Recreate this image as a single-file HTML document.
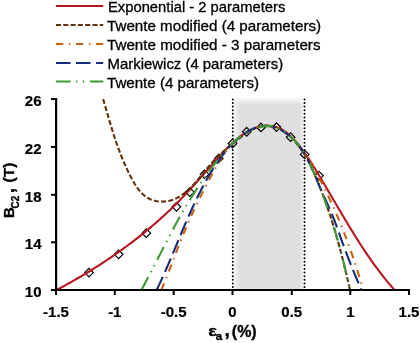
<!DOCTYPE html>
<html><head><meta charset="utf-8"><style>
html,body{margin:0;padding:0;background:#fff;}
svg{display:block;font-family:"Liberation Sans", sans-serif;will-change:transform;}
</style></head><body>
<svg width="420" height="343" viewBox="0 0 420 343">
<rect width="420" height="343" fill="#fff"/>
<defs><linearGradient id="gt" x1="0" y1="0" x2="0" y2="1"><stop offset="0" stop-color="#fff" stop-opacity="0.75"/><stop offset="1" stop-color="#fff" stop-opacity="0"/></linearGradient><linearGradient id="gl" x1="0" y1="0" x2="1" y2="0"><stop offset="0" stop-color="#fff" stop-opacity="0.6"/><stop offset="1" stop-color="#fff" stop-opacity="0"/></linearGradient><linearGradient id="gr" x1="0" y1="0" x2="1" y2="0"><stop offset="0" stop-color="#fff" stop-opacity="0"/><stop offset="1" stop-color="#fff" stop-opacity="0.45"/></linearGradient></defs>
<rect x="234.5" y="98.6" width="68.6" height="190.4" fill="#dfdfe2"/>
<rect x="234.5" y="98.6" width="68.6" height="5.5" fill="url(#gt)"/>
<rect x="234.5" y="98.6" width="5" height="190.4" fill="url(#gl)"/>
<rect x="299.3" y="98.6" width="3.8" height="190.4" fill="url(#gr)"/>
<line x1="232.8" y1="99.4" x2="232.8" y2="287.5" stroke="#000" stroke-width="2" stroke-linecap="round" stroke-dasharray="0 3.608"/>
<line x1="304.5" y1="99.4" x2="304.5" y2="287.5" stroke="#000" stroke-width="2" stroke-linecap="round" stroke-dasharray="0 3.608"/>
<path d="M89,268.3 L93.3,272.6 L89,276.90000000000003 L84.7,272.6 Z" fill="none" stroke="#000" stroke-width="1.2"/>
<path d="M118.6,250.0 L122.89999999999999,254.3 L118.6,258.6 L114.3,254.3 Z" fill="none" stroke="#000" stroke-width="1.2"/>
<path d="M146.3,228.89999999999998 L150.60000000000002,233.2 L146.3,237.5 L142.0,233.2 Z" fill="none" stroke="#000" stroke-width="1.2"/>
<path d="M176.4,202.5 L180.70000000000002,206.8 L176.4,211.10000000000002 L172.1,206.8 Z" fill="none" stroke="#000" stroke-width="1.2"/>
<path d="M189.8,187.79999999999998 L194.10000000000002,192.1 L189.8,196.4 L185.5,192.1 Z" fill="none" stroke="#000" stroke-width="1.2"/>
<path d="M204.5,169.89999999999998 L208.8,174.2 L204.5,178.5 L200.2,174.2 Z" fill="none" stroke="#000" stroke-width="1.2"/>
<path d="M218.8,154.1 L223.10000000000002,158.4 L218.8,162.70000000000002 L214.5,158.4 Z" fill="none" stroke="#000" stroke-width="1.2"/>
<path d="M232.5,139.2 L236.8,143.5 L232.5,147.8 L228.2,143.5 Z" fill="none" stroke="#000" stroke-width="1.2"/>
<path d="M246.7,127.50000000000001 L251.0,131.8 L246.7,136.10000000000002 L242.39999999999998,131.8 Z" fill="none" stroke="#000" stroke-width="1.2"/>
<path d="M261,123.10000000000001 L265.3,127.4 L261,131.70000000000002 L256.7,127.4 Z" fill="none" stroke="#000" stroke-width="1.2"/>
<path d="M276.5,122.8 L280.8,127.1 L276.5,131.4 L272.2,127.1 Z" fill="none" stroke="#000" stroke-width="1.2"/>
<path d="M290.6,132.89999999999998 L294.90000000000003,137.2 L290.6,141.5 L286.3,137.2 Z" fill="none" stroke="#000" stroke-width="1.2"/>
<path d="M304.7,150.1 L309.0,154.4 L304.7,158.70000000000002 L300.4,154.4 Z" fill="none" stroke="#000" stroke-width="1.2"/>
<path d="M319,171.29999999999998 L323.3,175.6 L319,179.9 L314.7,175.6 Z" fill="none" stroke="#000" stroke-width="1.2"/>
<path d="M56.35,290.15 L58.46,289.03 L60.57,287.90 L62.67,286.76 L64.78,285.61 L66.88,284.45 L68.98,283.28 L71.08,282.10 L73.18,280.91 L75.27,279.70 L77.36,278.49 L79.45,277.27 L81.54,276.04 L83.62,274.80 L85.70,273.55 L87.77,272.29 L89.85,271.02 L91.91,269.74 L93.98,268.45 L96.03,267.15 L98.09,265.84 L100.14,264.52 L102.18,263.19 L104.22,261.85 L106.25,260.50 L108.28,259.14 L110.31,257.77 L112.32,256.40 L114.33,255.01 L116.34,253.61 L118.34,252.21 L120.33,250.79 L122.31,249.37 L124.29,247.93 L126.26,246.49 L128.23,245.03 L130.18,243.57 L132.13,242.10 L134.07,240.61 L136.01,239.12 L137.93,237.62 L139.85,236.11 L141.75,234.59 L143.65,233.06 L145.54,231.52 L147.42,229.98 L149.30,228.42 L151.16,226.85 L153.01,225.28 L154.85,223.69 L156.68,222.10 L158.51,220.50 L160.32,218.89 L162.12,217.27 L163.91,215.64 L165.69,214.00 L167.46,212.35 L169.22,210.69 L170.96,209.02 L172.70,207.35 L174.42,205.67 L176.13,203.97 L177.83,202.27 L179.51,200.56 L181.18,198.84 L182.85,197.11 L184.50,195.37 L186.14,193.63 L187.77,191.88 L189.39,190.11 L191.01,188.35 L192.62,186.57 L194.23,184.79 L195.83,183.00 L197.43,181.21 L199.03,179.41 L200.63,177.60 L202.23,175.79 L203.84,173.98 L205.44,172.16 L207.05,170.33 L208.67,168.50 L210.29,166.67 L211.92,164.83 L213.56,162.99 L215.20,161.15 L216.86,159.30 L218.53,157.46 L220.22,155.61 L221.91,153.76 L223.62,151.91 L225.35,150.07 L227.10,148.26 L228.87,146.47 L230.65,144.70 L232.46,142.98 L234.30,141.30 L236.16,139.68 L238.04,138.11 L239.96,136.60 L241.90,135.17 L243.88,133.81 L245.89,132.54 L247.93,131.36 L250.01,130.28 L252.12,129.31 L254.28,128.44 L256.47,127.69 L258.70,127.07 L260.98,126.58 L263.30,126.22 L265.66,126.01 L268.03,125.96 L270.41,126.07 L272.76,126.35 L275.09,126.81 L277.37,127.46 L279.59,128.31 L281.73,129.35 L283.79,130.59 L285.78,131.98 L287.70,133.51 L289.55,135.15 L291.35,136.89 L293.09,138.70 L294.78,140.56 L296.42,142.45 L298.02,144.35 L299.58,146.27 L301.09,148.21 L302.58,150.16 L304.02,152.12 L305.44,154.10 L306.83,156.10 L308.19,158.10 L309.53,160.11 L310.85,162.14 L312.15,164.17 L313.44,166.22 L314.71,168.27 L315.98,170.32 L317.23,172.38 L318.49,174.45 L319.73,176.52 L320.98,178.59 L322.22,180.67 L323.46,182.75 L324.69,184.84 L325.92,186.93 L327.15,189.01 L328.38,191.11 L329.61,193.20 L330.84,195.29 L332.07,197.39 L333.29,199.49 L334.52,201.59 L335.75,203.68 L336.98,205.78 L338.21,207.88 L339.44,209.98 L340.67,212.07 L341.91,214.17 L343.15,216.26 L344.40,218.35 L345.64,220.44 L346.89,222.53 L348.15,224.61 L349.41,226.70 L350.67,228.77 L351.95,230.85 L353.22,232.92 L354.51,234.99 L355.80,237.05 L357.09,239.11 L358.40,241.16 L359.71,243.21 L361.03,245.25 L362.36,247.28 L363.69,249.31 L365.04,251.33 L366.39,253.35 L367.76,255.36 L369.14,257.36 L370.52,259.35 L371.92,261.34 L373.33,263.31 L374.75,265.28 L376.18,267.24 L377.63,269.19 L379.09,271.13 L380.56,273.06 L382.04,274.98 L383.54,276.89 L385.06,278.79 L386.58,280.68 L388.13,282.56 L389.69,284.42 L391.26,286.28 L392.85,288.12 L394.46,289.94" fill="none" stroke="#b9171f" stroke-width="2.1"/>
<path d="M103.13,99.09 L103.78,101.30 L104.43,103.51 L105.07,105.71 L105.71,107.91 L106.34,110.10 L106.98,112.29 L107.62,114.47 L108.25,116.65 L108.89,118.82 L109.53,120.99 L110.18,123.16 L110.83,125.32 L111.48,127.48 L112.14,129.64 L112.81,131.79 L113.49,133.93 L114.18,136.07 L114.88,138.21 L115.59,140.35 L116.31,142.48 L117.04,144.60 L117.79,146.72 L118.56,148.84 L119.34,150.96 L120.14,153.07 L120.96,155.18 L121.80,157.28 L122.66,159.38 L123.54,161.48 L124.44,163.57 L125.37,165.66 L126.32,167.75 L127.29,169.83 L128.30,171.91 L129.33,173.99 L130.38,176.06 L131.47,178.13 L132.59,180.20 L133.75,182.24 L134.95,184.24 L136.21,186.20 L137.51,188.09 L138.88,189.91 L140.32,191.64 L141.84,193.28 L143.43,194.79 L145.11,196.18 L146.88,197.43 L148.74,198.52 L150.71,199.45 L152.77,200.21 L154.90,200.81 L157.08,201.24 L159.32,201.51 L161.58,201.62 L163.85,201.57 L166.12,201.36 L168.37,201.00 L170.59,200.48 L172.77,199.81 L174.89,198.99 L176.94,198.03 L178.94,196.94 L180.88,195.74 L182.76,194.44 L184.58,193.06 L186.36,191.60 L188.08,190.09 L189.75,188.53 L191.37,186.92 L192.94,185.29 L194.49,183.62 L195.99,181.92 L197.47,180.21 L198.93,178.47 L200.37,176.72 L201.80,174.97 L203.22,173.21 L204.63,171.45 L206.05,169.69 L207.48,167.95 L208.91,166.22 L210.37,164.51 L211.84,162.82 L213.35,161.15 L214.88,159.52 L216.44,157.92 L218.04,156.35 L219.66,154.80 L221.31,153.27 L222.98,151.77 L224.67,150.28 L226.39,148.81 L228.12,147.35 L229.88,145.90 L231.65,144.46 L233.43,143.03 L235.23,141.60 L237.05,140.17 L238.87,138.75 L240.70,137.32 L242.54,135.89 L244.41,134.50 L246.29,133.15 L248.21,131.87 L250.16,130.67 L252.15,129.56 L254.18,128.58 L256.26,127.72 L258.38,127.01 L260.53,126.44 L262.70,126.02 L264.88,125.76 L267.07,125.67 L269.24,125.74 L271.40,126.00 L273.54,126.43 L275.64,127.05 L277.70,127.84 L279.72,128.80 L281.70,129.89 L283.63,131.11 L285.51,132.44 L287.33,133.87 L289.10,135.38 L290.81,136.96 L292.46,138.59 L294.04,140.26 L295.57,141.97 L297.03,143.72 L298.45,145.50 L299.81,147.32 L301.12,149.17 L302.38,151.05 L303.60,152.96 L304.78,154.90 L305.93,156.86 L307.03,158.84 L308.11,160.84 L309.15,162.86 L310.16,164.89 L311.15,166.94 L312.12,169.00 L313.07,171.06 L314.00,173.14 L314.92,175.22 L315.83,177.30 L316.72,179.39 L317.60,181.49 L318.47,183.58 L319.32,185.68 L320.17,187.79 L321.00,189.90 L321.82,192.01 L322.63,194.13 L323.43,196.25 L324.22,198.37 L325.00,200.50 L325.77,202.63 L326.52,204.76 L327.27,206.90 L328.01,209.04 L328.73,211.18 L329.45,213.33 L330.16,215.48 L330.86,217.63 L331.55,219.79 L332.23,221.94 L332.90,224.11 L333.57,226.27 L334.22,228.44 L334.87,230.61 L335.51,232.78 L336.14,234.95 L336.77,237.13 L337.39,239.31 L338.00,241.49 L338.60,243.68 L339.19,245.86 L339.78,248.05 L340.37,250.24 L340.94,252.43 L341.51,254.63 L342.08,256.83 L342.64,259.02 L343.19,261.23 L343.74,263.43 L344.28,265.63 L344.82,267.84 L345.35,270.04 L345.88,272.25 L346.41,274.46 L346.93,276.68 L347.44,278.89 L347.95,281.10 L348.46,283.32 L348.97,285.54 L349.47,287.75 L349.96,289.97" fill="none" stroke="#62300c" stroke-width="2.1" stroke-dasharray="5 2.3"/>
<path d="M161.28,290.00 L162.08,288.14 L162.87,286.28 L163.65,284.42 L164.42,282.55 L165.18,280.68 L165.94,278.81 L166.69,276.93 L167.44,275.06 L168.18,273.18 L168.91,271.30 L169.64,269.43 L170.37,267.55 L171.09,265.66 L171.81,263.78 L172.53,261.90 L173.25,260.02 L173.97,258.14 L174.69,256.26 L175.40,254.38 L176.12,252.50 L176.84,250.62 L177.56,248.74 L178.29,246.87 L179.01,244.99 L179.74,243.12 L180.48,241.25 L181.22,239.38 L181.96,237.51 L182.72,235.65 L183.47,233.79 L184.24,231.93 L185.01,230.08 L185.79,228.23 L186.58,226.38 L187.37,224.53 L188.17,222.69 L188.98,220.85 L189.80,219.02 L190.62,217.19 L191.45,215.36 L192.29,213.53 L193.13,211.71 L193.98,209.89 L194.84,208.07 L195.70,206.26 L196.57,204.45 L197.45,202.64 L198.33,200.84 L199.22,199.03 L200.12,197.24 L201.02,195.44 L201.93,193.65 L202.85,191.86 L203.77,190.07 L204.69,188.28 L205.62,186.50 L206.55,184.72 L207.49,182.93 L208.43,181.15 L209.38,179.37 L210.32,177.59 L211.27,175.81 L212.22,174.03 L213.17,172.24 L214.12,170.46 L215.08,168.68 L216.04,166.91 L217.02,165.14 L218.01,163.39 L219.03,161.65 L220.06,159.93 L221.13,158.24 L222.22,156.57 L223.34,154.93 L224.51,153.32 L225.71,151.75 L226.95,150.21 L228.23,148.71 L229.55,147.23 L230.90,145.79 L232.28,144.37 L233.69,142.98 L235.13,141.61 L236.60,140.26 L238.09,138.94 L239.61,137.63 L241.15,136.34 L242.72,135.09 L244.35,133.87 L246.03,132.71 L247.78,131.61 L249.60,130.57 L251.48,129.62 L253.42,128.75 L255.39,127.97 L257.39,127.29 L259.42,126.72 L261.45,126.27 L263.47,125.93 L265.48,125.73 L267.46,125.67 L269.40,125.74 L271.30,125.97 L273.16,126.33 L274.98,126.82 L276.76,127.44 L278.50,128.17 L280.20,129.01 L281.87,129.96 L283.50,131.00 L285.09,132.14 L286.65,133.35 L288.17,134.65 L289.66,136.01 L291.13,137.43 L292.56,138.91 L293.96,140.44 L295.33,142.01 L296.67,143.62 L297.99,145.25 L299.28,146.91 L300.54,148.58 L301.79,150.25 L303.00,151.93 L304.20,153.62 L305.37,155.31 L306.52,157.00 L307.66,158.70 L308.77,160.40 L309.86,162.11 L310.93,163.82 L311.99,165.53 L313.03,167.25 L314.06,168.98 L315.06,170.70 L316.06,172.44 L317.04,174.18 L318.01,175.92 L318.96,177.67 L319.90,179.42 L320.84,181.18 L321.76,182.95 L322.67,184.72 L323.58,186.49 L324.47,188.27 L325.36,190.06 L326.24,191.86 L327.12,193.66 L327.99,195.46 L328.85,197.27 L329.71,199.09 L330.56,200.91 L331.40,202.73 L332.23,204.57 L333.06,206.40 L333.89,208.24 L334.70,210.09 L335.52,211.94 L336.32,213.79 L337.12,215.65 L337.91,217.51 L338.69,219.38 L339.47,221.25 L340.24,223.12 L341.01,225.00 L341.77,226.88 L342.52,228.76 L343.27,230.65 L344.00,232.54 L344.74,234.43 L345.46,236.33 L346.18,238.22 L346.90,240.12 L347.61,242.02 L348.31,243.93 L349.00,245.83 L349.69,247.74 L350.37,249.65 L351.05,251.56 L351.72,253.48 L352.38,255.39 L353.03,257.30 L353.68,259.22 L354.33,261.14 L354.97,263.05 L355.60,264.97 L356.22,266.89 L356.84,268.81 L357.45,270.73 L358.06,272.65 L358.66,274.56 L359.25,276.48 L359.83,278.40 L360.41,280.32 L360.99,282.23 L361.56,284.15 L362.12,286.07 L362.67,287.98 L363.22,289.89" fill="none" stroke="#c9620e" stroke-width="2.1" stroke-dasharray="7.3 5.6 1.4 5.7"/>
<path d="M156.64,290.04 L157.51,288.22 L158.38,286.40 L159.24,284.58 L160.09,282.75 L160.93,280.92 L161.77,279.09 L162.60,277.25 L163.43,275.41 L164.25,273.57 L165.06,271.72 L165.87,269.87 L166.68,268.02 L167.48,266.17 L168.27,264.31 L169.07,262.46 L169.86,260.60 L170.65,258.74 L171.43,256.87 L172.22,255.01 L173.00,253.15 L173.78,251.28 L174.56,249.42 L175.33,247.55 L176.11,245.68 L176.89,243.81 L177.67,241.95 L178.44,240.08 L179.22,238.21 L180.00,236.35 L180.78,234.48 L181.57,232.62 L182.35,230.76 L183.14,228.89 L183.93,227.03 L184.73,225.17 L185.52,223.32 L186.33,221.46 L187.13,219.61 L187.94,217.76 L188.76,215.91 L189.58,214.06 L190.40,212.22 L191.24,210.38 L192.07,208.54 L192.92,206.71 L193.77,204.88 L194.63,203.05 L195.50,201.23 L196.37,199.41 L197.25,197.60 L198.14,195.79 L199.04,193.98 L199.95,192.18 L200.87,190.39 L201.80,188.60 L202.74,186.82 L203.69,185.05 L204.66,183.28 L205.63,181.52 L206.62,179.76 L207.61,178.02 L208.63,176.28 L209.65,174.55 L210.69,172.83 L211.74,171.11 L212.81,169.41 L213.89,167.72 L214.98,166.04 L216.09,164.36 L217.22,162.70 L218.37,161.05 L219.53,159.41 L220.70,157.78 L221.90,156.17 L223.12,154.57 L224.36,152.98 L225.63,151.41 L226.92,149.86 L228.25,148.33 L229.60,146.82 L230.99,145.33 L232.42,143.86 L233.88,142.42 L235.38,141.00 L236.92,139.61 L238.50,138.25 L240.13,136.91 L241.80,135.61 L243.51,134.35 L245.26,133.15 L247.04,132.01 L248.84,130.93 L250.67,129.94 L252.52,129.04 L254.39,128.23 L256.26,127.52 L258.15,126.93 L260.04,126.47 L261.93,126.13 L263.83,125.93 L265.71,125.88 L267.59,125.95 L269.46,126.15 L271.31,126.47 L273.15,126.92 L274.98,127.47 L276.78,128.12 L278.56,128.88 L280.32,129.74 L282.06,130.68 L283.76,131.71 L285.43,132.82 L287.07,134.00 L288.68,135.25 L290.24,136.57 L291.77,137.94 L293.25,139.37 L294.69,140.85 L296.08,142.36 L297.41,143.92 L298.70,145.51 L299.94,147.12 L301.14,148.77 L302.29,150.45 L303.40,152.15 L304.46,153.87 L305.50,155.62 L306.50,157.39 L307.46,159.17 L308.40,160.98 L309.31,162.79 L310.20,164.63 L311.06,166.47 L311.91,168.33 L312.74,170.19 L313.55,172.07 L314.35,173.94 L315.15,175.82 L315.93,177.71 L316.71,179.59 L317.49,181.47 L318.27,183.35 L319.06,185.23 L319.84,187.09 L320.64,188.95 L321.44,190.81 L322.26,192.65 L323.09,194.48 L323.92,196.30 L324.75,198.12 L325.59,199.94 L326.43,201.75 L327.26,203.57 L328.10,205.38 L328.92,207.20 L329.73,209.03 L330.54,210.86 L331.33,212.70 L332.11,214.54 L332.86,216.40 L333.61,218.27 L334.34,220.15 L335.05,222.04 L335.76,223.93 L336.45,225.83 L337.14,227.73 L337.83,229.64 L338.50,231.55 L339.18,233.47 L339.86,235.38 L340.54,237.29 L341.22,239.20 L341.91,241.11 L342.60,243.02 L343.30,244.92 L344.00,246.82 L344.71,248.72 L345.42,250.61 L346.14,252.50 L346.86,254.39 L347.59,256.28 L348.32,258.16 L349.06,260.05 L349.80,261.93 L350.54,263.80 L351.29,265.68 L352.04,267.56 L352.80,269.43 L353.55,271.30 L354.32,273.17 L355.08,275.04 L355.85,276.91 L356.62,278.77 L357.39,280.64 L358.17,282.50 L358.94,284.37 L359.72,286.23 L360.50,288.09 L361.29,289.96" fill="none" stroke="#182b7a" stroke-width="2.1" stroke-dasharray="14.5 5.5"/>
<path d="M141.46,289.92 L142.41,288.17 L143.36,286.41 L144.31,284.64 L145.26,282.87 L146.20,281.09 L147.14,279.31 L148.08,277.52 L149.02,275.73 L149.95,273.93 L150.89,272.13 L151.82,270.32 L152.75,268.51 L153.69,266.70 L154.62,264.88 L155.55,263.06 L156.48,261.24 L157.42,259.42 L158.35,257.59 L159.28,255.77 L160.22,253.94 L161.15,252.11 L162.09,250.28 L163.02,248.46 L163.96,246.63 L164.91,244.80 L165.85,242.97 L166.79,241.15 L167.74,239.32 L168.69,237.50 L169.65,235.68 L170.60,233.86 L171.56,232.04 L172.53,230.23 L173.49,228.42 L174.46,226.62 L175.44,224.81 L176.42,223.02 L177.40,221.22 L178.39,219.43 L179.38,217.65 L180.38,215.87 L181.39,214.10 L182.40,212.33 L183.41,210.57 L184.43,208.82 L185.46,207.08 L186.49,205.34 L187.53,203.61 L188.58,201.88 L189.63,200.17 L190.69,198.46 L191.76,196.76 L192.83,195.07 L193.92,193.38 L195.01,191.70 L196.11,190.03 L197.22,188.36 L198.33,186.70 L199.46,185.04 L200.59,183.38 L201.73,181.72 L202.88,180.07 L204.04,178.42 L205.22,176.77 L206.40,175.12 L207.59,173.46 L208.79,171.81 L210.00,170.16 L211.22,168.51 L212.45,166.85 L213.70,165.19 L214.95,163.53 L216.22,161.87 L217.50,160.21 L218.80,158.56 L220.11,156.92 L221.44,155.29 L222.78,153.68 L224.14,152.08 L225.52,150.51 L226.92,148.96 L228.34,147.43 L229.78,145.93 L231.25,144.46 L232.74,143.03 L234.25,141.63 L235.78,140.28 L237.34,138.96 L238.93,137.69 L240.55,136.47 L242.19,135.30 L243.87,134.18 L245.57,133.11 L247.30,132.11 L249.07,131.16 L250.87,130.28 L252.70,129.46 L254.57,128.72 L256.47,128.05 L258.39,127.46 L260.34,126.96 L262.30,126.57 L264.26,126.28 L266.23,126.11 L268.19,126.06 L270.14,126.15 L272.07,126.38 L273.98,126.76 L275.86,127.30 L277.70,127.98 L279.51,128.79 L281.29,129.72 L283.03,130.76 L284.73,131.89 L286.38,133.12 L288.00,134.42 L289.57,135.78 L291.09,137.19 L292.56,138.64 L293.98,140.13 L295.36,141.65 L296.69,143.20 L297.98,144.79 L299.23,146.40 L300.44,148.04 L301.61,149.71 L302.74,151.41 L303.84,153.12 L304.91,154.87 L305.94,156.63 L306.94,158.41 L307.92,160.21 L308.87,162.02 L309.80,163.85 L310.70,165.70 L311.58,167.56 L312.44,169.42 L313.29,171.30 L314.11,173.19 L314.93,175.08 L315.73,176.97 L316.52,178.87 L317.30,180.77 L318.07,182.68 L318.83,184.58 L319.59,186.48 L320.34,188.39 L321.08,190.30 L321.81,192.21 L322.54,194.12 L323.25,196.03 L323.96,197.94 L324.66,199.85 L325.36,201.77 L326.04,203.69 L326.72,205.60 L327.40,207.52 L328.06,209.45 L328.72,211.37 L329.37,213.29 L330.01,215.22 L330.65,217.15 L331.28,219.08 L331.90,221.01 L332.52,222.94 L333.13,224.88 L333.73,226.82 L334.33,228.76 L334.92,230.70 L335.50,232.64 L336.08,234.59 L336.65,236.53 L337.22,238.48 L337.77,240.43 L338.33,242.39 L338.87,244.35 L339.41,246.30 L339.95,248.26 L340.48,250.23 L341.00,252.19 L341.52,254.16 L342.03,256.13 L342.54,258.11 L343.04,260.08 L343.53,262.06 L344.02,264.04 L344.51,266.03 L344.99,268.01 L345.46,270.00 L345.93,271.99 L346.39,273.99 L346.85,275.99 L347.31,277.99 L347.76,279.99 L348.20,282.00 L348.64,284.01 L349.08,286.02 L349.51,288.04 L349.93,290.05" fill="none" stroke="#3e9a35" stroke-width="2.1" stroke-dasharray="14.5 5.6 1.4 5.2 1.4 5.9"/>
<rect x="55" y="98" width="2.2" height="193" fill="#000"/>
<rect x="51" y="98.00" width="6" height="2" fill="#000"/>
<rect x="51" y="146.00" width="6" height="2" fill="#000"/>
<rect x="51" y="193.80" width="6" height="2" fill="#000"/>
<rect x="51" y="241.30" width="6" height="2" fill="#000"/>
<rect x="51" y="289.00" width="6" height="2" fill="#000"/>
<rect x="55" y="289" width="355" height="2" fill="#000"/>
<rect x="55.00" y="289" width="2" height="6" fill="#000"/>
<rect x="113.80" y="289" width="2" height="6" fill="#000"/>
<rect x="172.70" y="289" width="2" height="6" fill="#000"/>
<rect x="231.50" y="289" width="2" height="6" fill="#000"/>
<rect x="290.80" y="289" width="2" height="6" fill="#000"/>
<rect x="349.30" y="289" width="2" height="6" fill="#000"/>
<rect x="408.00" y="289" width="2" height="6" fill="#000"/>
<text x="41.5" y="105.8" text-anchor="end" font-weight="bold" font-size="15" stroke="#000" stroke-width="0.2">26</text>
<text x="41.5" y="153.8" text-anchor="end" font-weight="bold" font-size="15" stroke="#000" stroke-width="0.2">22</text>
<text x="41.5" y="201.6" text-anchor="end" font-weight="bold" font-size="15" stroke="#000" stroke-width="0.2">18</text>
<text x="41.5" y="249.1" text-anchor="end" font-weight="bold" font-size="15" stroke="#000" stroke-width="0.2">14</text>
<text x="41.5" y="296.8" text-anchor="end" font-weight="bold" font-size="15" stroke="#000" stroke-width="0.2">10</text>
<text x="56.0" y="316.8" text-anchor="middle" font-weight="bold" font-size="15" stroke="#000" stroke-width="0.2">-1.5</text>
<text x="114.8" y="316.8" text-anchor="middle" font-weight="bold" font-size="15" stroke="#000" stroke-width="0.2">-1</text>
<text x="173.7" y="316.8" text-anchor="middle" font-weight="bold" font-size="15" stroke="#000" stroke-width="0.2">-0.5</text>
<text x="232.5" y="316.8" text-anchor="middle" font-weight="bold" font-size="15" stroke="#000" stroke-width="0.2">0</text>
<text x="291.8" y="316.8" text-anchor="middle" font-weight="bold" font-size="15" stroke="#000" stroke-width="0.2">0.5</text>
<text x="350.3" y="316.8" text-anchor="middle" font-weight="bold" font-size="15" stroke="#000" stroke-width="0.2">1</text>
<text x="409.0" y="316.8" text-anchor="middle" font-weight="bold" font-size="15" stroke="#000" stroke-width="0.2">1.5</text>
<g stroke="#000" stroke-width="0.35">
<text transform="translate(208.3,335.6) scale(1.22,0.95)" font-weight="bold" font-size="15">&#949;</text>
<text x="215.8" y="339.8" font-weight="bold" font-size="11.5">a</text>
<text x="224.5" y="336.3" font-weight="bold" font-size="19">,</text>
<text x="231.8" y="336.6" font-weight="bold" font-size="16">(%)</text>
</g>
<g transform="rotate(-90)" font-weight="bold" stroke="#000" stroke-width="0.3">
<text x="-217.9" y="13.8" font-size="15">B</text>
<text x="-208.5" y="18.6" font-size="10">C2</text>
<text x="-193.2" y="13.9" font-size="19">,</text>
<text x="-182.5" y="13.6" font-size="15.5">(T)</text>
</g>
<line x1="56" y1="6.0" x2="103.2" y2="6.0" stroke="#b9171f" stroke-width="2"/>
<text x="108.0" y="12.3" font-size="14.5" stroke="#000" stroke-width="0.3" textLength="177.3" lengthAdjust="spacingAndGlyphs">Exponential - 2 parameters</text>
<line x1="56" y1="25.0" x2="103.2" y2="25.0" stroke="#62300c" stroke-width="2" stroke-dasharray="5 2.3"/>
<text x="107.0" y="31.3" font-size="14.5" stroke="#000" stroke-width="0.3" textLength="214.1" lengthAdjust="spacingAndGlyphs">Twente modified (4 parameters)</text>
<line x1="56" y1="44.0" x2="103.2" y2="44.0" stroke="#c9620e" stroke-width="2" stroke-dasharray="7.3 5.6 1.4 5.7"/>
<text x="107.0" y="50.3" font-size="14.5" stroke="#000" stroke-width="0.3" textLength="213.5" lengthAdjust="spacingAndGlyphs">Twente modified - 3 parameters</text>
<line x1="56" y1="62.9" x2="103.2" y2="62.9" stroke="#182b7a" stroke-width="2" stroke-dasharray="14.5 5.5"/>
<text x="107.6" y="69.2" font-size="14.5" stroke="#000" stroke-width="0.3" textLength="175.6" lengthAdjust="spacingAndGlyphs">Markiewicz (4 parameters)</text>
<line x1="56" y1="81.6" x2="103.2" y2="81.6" stroke="#3e9a35" stroke-width="2" stroke-dasharray="14.5 5.6 1.4 5.2 1.4 5.9"/>
<text x="107.0" y="87.9" font-size="14.5" stroke="#000" stroke-width="0.3" textLength="152.0" lengthAdjust="spacingAndGlyphs">Twente (4 parameters)</text>
</svg></body></html>
